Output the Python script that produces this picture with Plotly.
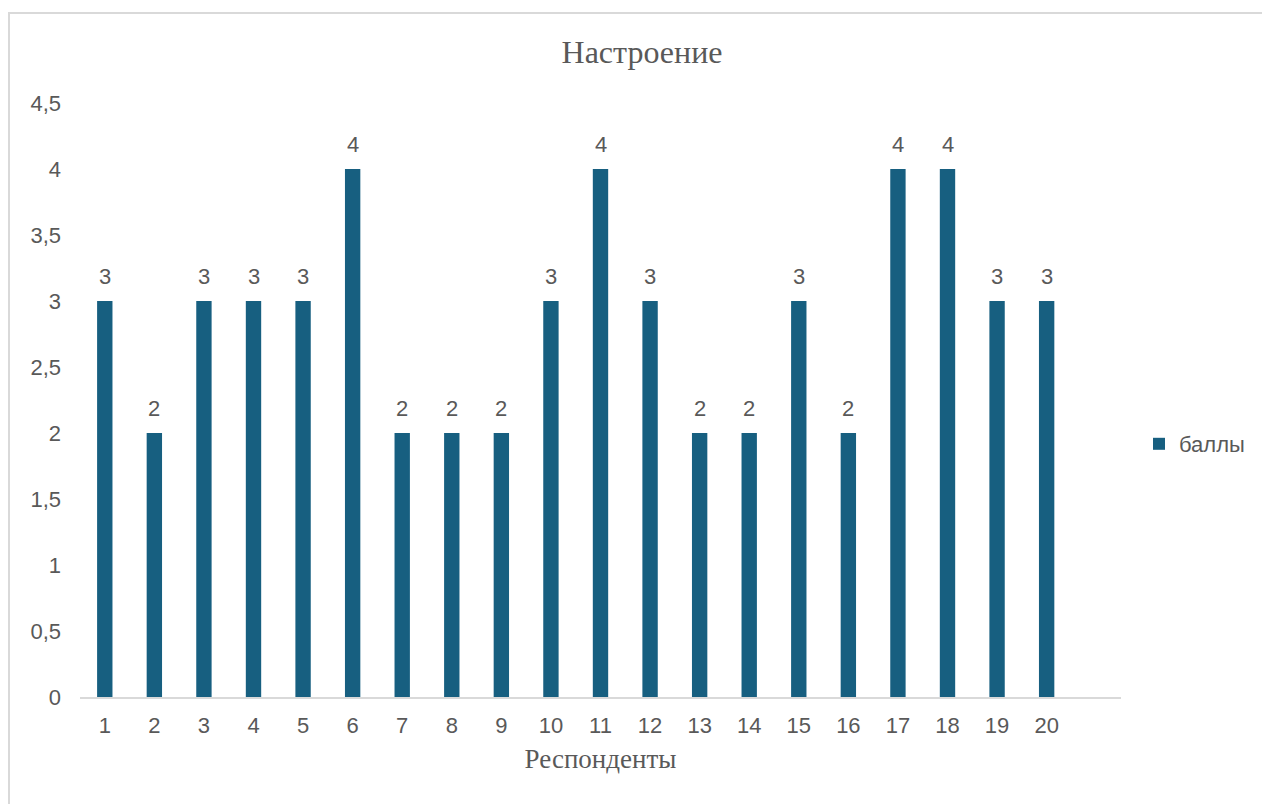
import plotly.graph_objects as go

respondents = [str(i) for i in range(1, 21)]
scores = [3, 2, 3, 3, 3, 4, 2, 2, 2, 3, 4, 3, 2, 2, 3, 2, 4, 4, 3, 3]
y_tick_vals = [0, 0.5, 1, 1.5, 2, 2.5, 3, 3.5, 4, 4.5]
y_tick_text = ["0", "0,5", "1", "1,5", "2", "2,5", "3", "3,5", "4", "4,5"]

# the page body adds an 8px offset; positions below are in figure coordinates
OFF = 8
W, H = 1270, 804
L, T = 80 - OFF, 103 - OFF
R = W - (1121 - OFF)
B = H - (697 - OFF)
pw, ph = W - L - R, H - T - B

def px_x(p):
    return (p - OFF - L) / pw

def px_y(p):
    return (H - B - (p - OFF)) / ph

bar_color = "#175f80"
text_color = "#595959"
sans = "Liberation Sans, Arial"
serif = "Liberation Serif, Times New Roman"

fig = go.Figure()
fig.add_trace(go.Bar(
    x=respondents, y=scores, name="баллы",
    marker=dict(color=bar_color, line=dict(width=0)),
))

for i, yv in enumerate(scores):
    fig.add_annotation(x=i, y=yv, text=str(yv), showarrow=False,
                       yanchor="bottom", yshift=10,
                       font=dict(family=sans, size=22, color=text_color))

fig.add_shape(type="rect", xref="paper", yref="paper",
              x0=px_x(9), x1=px_x(1300), y0=px_y(840), y1=px_y(13),
              line=dict(color="#d9d9d9", width=2), fillcolor="rgba(0,0,0,0)", layer="below")

fig.update_layout(
    width=W, height=H,
    margin=dict(l=L, r=R, t=T, b=B, pad=0),
    paper_bgcolor="white", plot_bgcolor="white",
    bargap=0.69,
    title=dict(text="Настроение", x=(642 - OFF) / W, xref="container", xanchor="center",
               y=1 - (52 - OFF) / H, yref="container", yanchor="middle",
               font=dict(family=serif, size=32, color=text_color)),
    showlegend=True,
    legend=dict(x=px_x(1139), xanchor="left", y=px_y(444), yanchor="middle",
                font=dict(family=sans, size=22, color=text_color),
                itemwidth=30, itemsizing="constant"),
    xaxis=dict(type="category", range=[-0.5, len(respondents) + 0.5],
               showline=True, linecolor="#d9d9d9", linewidth=2,
               showgrid=False, ticks="", ticklabelstandoff=8,
               tickfont=dict(family=sans, size=22, color=text_color),
               title=dict(text="Респонденты", standoff=12,
                          font=dict(family=serif, size=27, color=text_color))),
    yaxis=dict(range=[0, 4.5], tickvals=y_tick_vals, ticktext=y_tick_text,
               showgrid=False, zeroline=False, showline=False, ticks="",
               ticklabelstandoff=18,
               tickfont=dict(family=sans, size=22, color=text_color)),
)

fig.write_html("out.html")
